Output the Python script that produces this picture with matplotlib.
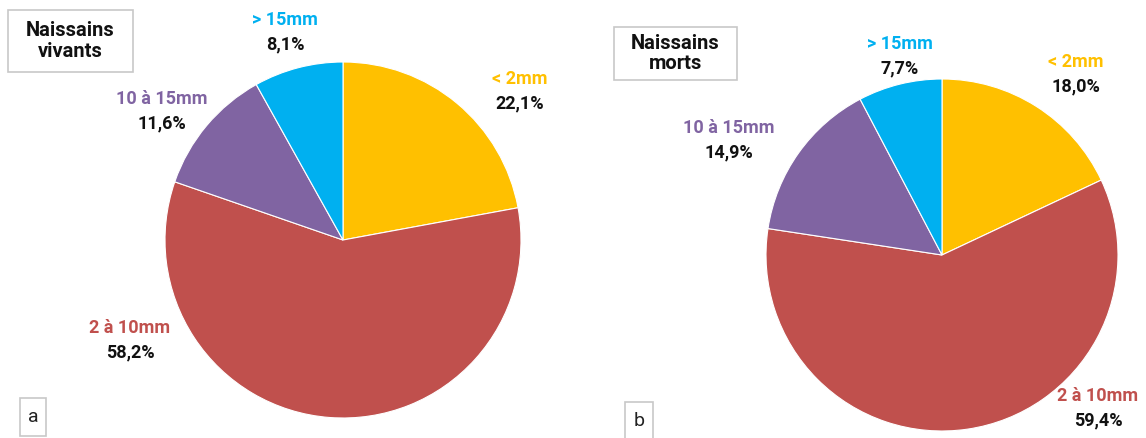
import matplotlib.pyplot as plt
from matplotlib.patches import Rectangle

plt.rcParams['font.family'] = ['Roboto', 'DejaVu Sans']

W, H = 1146, 438

categories = ['< 2mm', '2 à 10mm', '10 à 15mm', '> 15mm']
colors = ['#FFC000', '#C0504D', '#8064A2', '#00B0F0']
vivants = [22.1, 58.2, 11.6, 8.1]
morts = [18.0, 59.4, 14.9, 7.7]
titles = ['Naissains\nvivants', 'Naissains\nmorts']
letters = ['a', 'b']

fig = plt.figure(figsize=(W / 100, H / 100), dpi=100)
ax = fig.add_axes([0, 0, 1, 1])


def py(y):
    # pixel y from top -> data y
    return H - y


def fmt(v):
    return f'{v:.1f}'.replace('.', ',') + '%'


panels = [
    dict(values=vivants, center=(343, 240), radius=178,
         labels=[(520, 79), (130, 328), (162, 99), (285, 20)],
         title_box=(8, 10, 125, 62), letter_box=(20, 398, 26, 38)),
    dict(values=morts, center=(942, 255), radius=176,
         labels=[(1076, 62), (1098, 396), (729, 128), (900, 44)],
         title_box=(614, 27, 123, 53), letter_box=(625, 402, 28, 38)),
]

for i, p in enumerate(panels):
    cx, cy = p['center']
    ax.pie(p['values'], colors=colors, startangle=90, counterclock=False,
           center=(cx, py(cy)), radius=p['radius'], frame=True,
           wedgeprops=dict(edgecolor='white', linewidth=0.8))
    for cat, val, col, (lx, ly) in zip(categories, p['values'], colors, p['labels']):
        ax.text(lx, py(ly), cat, color=col, fontsize=13, fontweight='bold',
                ha='center', va='center')
        ax.text(lx, py(ly + 24), fmt(val), color='#111111', fontsize=13,
                fontweight='bold', ha='center', va='center')
    bx, by, bw, bh = p['title_box']
    ax.add_patch(Rectangle((bx, py(by + bh)), bw, bh, facecolor='white',
                           edgecolor='#c8c8c8', linewidth=1.2))
    ax.text(bx + bw / 2, py(by + bh / 2), titles[i], color='#111111',
            fontsize=14.5, fontweight='bold', ha='center', va='center',
            linespacing=1.1)
    lx, ly, lw, lh = p['letter_box']
    ax.add_patch(Rectangle((lx, py(ly + lh)), lw, lh, facecolor='white',
                           edgecolor='#c8c8c8', linewidth=1.2))
    ax.text(lx + lw / 2, py(ly + lh / 2), letters[i], color='#222222',
            fontsize=14, ha='center', va='center')

ax.set_xlim(0, W)
ax.set_ylim(0, H)
ax.set_aspect('equal')
ax.axis('off')
fig.savefig('out.png', dpi=100)
